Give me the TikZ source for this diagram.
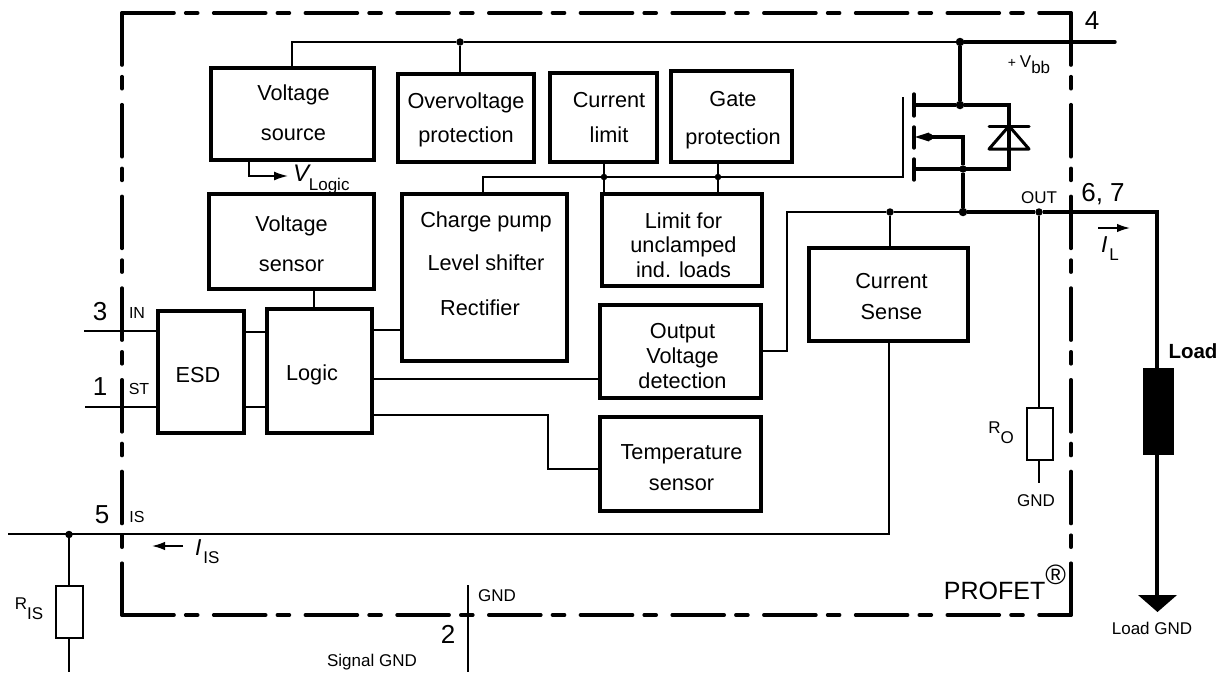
\documentclass[tikz,border=0pt]{standalone}
\usepackage{fontspec}
\setmainfont{Liberation Sans}
\usetikzlibrary{arrows.meta,calc}
\newcommand{\fsz}[1]{\fontsize{#1}{#1}\selectfont}
\newcommand{\blk}[9]{%
 \node[blockbox,font=\fontsize{21.7}{#6}\selectfont,minimum width={#4-#2-2.5},minimum height={#5-#3-2.5}] (#1) at ({(#2+#4)/2},{(#3+#5)/2})
 {\makebox[0pt]{\hspace*{#7pt}\smash{\raisebox{#8pt}[0pt][0pt]{\begin{tabular}{@{}c@{}}#9\end{tabular}}}}};}
\tikzset{
 x=1pt,y=-1pt,
 thinw/.style={line width=1.6pt},
 thickw/.style={line width=3.4pt},
 frameline/.style={line width=3.6pt,line cap=round,dash pattern=on 52pt off 11.7pt on 12pt off 16pt},
 blockbox/.style={draw,line width=4pt,outer sep=0pt,inner sep=0pt},
 junction/.style={circle,fill=black,inner sep=0pt,minimum size=7.5pt,outer sep=0pt},
 bigjunction/.style={circle,fill=black,inner sep=0pt,minimum size=8.5pt,outer sep=0pt},
 res/.style={draw,line width=1.7pt,outer sep=0pt,inner sep=0pt,minimum width=26.5pt,minimum height=52.5pt},
 txt/.style={inner sep=0pt,outer sep=0pt,align=center},
 small/.style={txt,font=\fsz{17}},
 pinlab/.style={txt,font=\fsz{16}},
 num/.style={txt,font=\fsz{26}},
 arrowline/.style={line width=1.6pt,-{Latex[length=13pt,width=8.5pt]}},
}
\begin{document}
\begin{tikzpicture}
\useasboundingbox (0,0) rectangle (1226,672);
% frame
\coordinate (tr) at (1071,13); \coordinate (tl) at (122,13);
\coordinate (bl) at (122,615); \coordinate (br) at (1071,615);
\draw[frameline] (tl) -- (tr);
\draw[frameline] (tl) -- (bl);
\draw[frameline] (bl) -- (br);
\draw[frameline] (tr) -- (br);
% blocks: name, x1,y1,x2,y2, line spacing, twice the x offset, raise, text
\blk{vsrc}{210}{67}{375}{161}{40}{2}{-3.5}{Voltage\\source}
\blk{ovp}{397}{73}{535}{163}{34}{0}{-5.5}{Overvoltage\\protection}
\blk{clim}{549}{72}{658}{163}{35}{11}{-5.5}{Current\\limit}
\blk{gate}{670}{70}{793}{163}{38}{3}{-7}{Gate\\protection}
\blk{vsens}{208}{193}{375}{290}{40}{0}{-7.5}{Voltage\\sensor}
\blk{cp}{401}{193}{568}{362}{10}{0}{0}{}
\node[txt,font=\fsz{21.7}] (cp1) at (486,222) {Charge pump};
\node[txt,font=\fsz{21.7}] (cp2) at (486,263) {Level shifter};
\node[txt,font=\fsz{21.7}] (cp3) at (480,308) {Rectifier};
\blk{lim}{601}{193}{763}{287}{24.5}{3}{-13}{Limit for\\unclamped\\ind. loads}
\blk{csense}{808}{247}{969}{342}{31}{6}{-8.5}{Current\\Sense}
\blk{ovd}{599}{304}{762}{399}{25}{4}{-12.5}{Output\\Voltage\\detection}
\blk{temp}{599}{416}{762}{512}{31.5}{2}{-10}{Temperature\\sensor}
\blk{esd}{157}{310}{245}{434}{24}{-6}{-11}{ESD}
\blk{logic}{266}{308}{373}{434}{24}{-15}{-10}{Logic}
% supply
\node[bigjunction] (jtop) at (960,42) {};
\node[bigjunction] (jd) at (960,105) {};
\node[junction] (jov) at (460,42) {};
\coordinate (pin4) at (1115,42);
\coordinate (vsl) at (292,42);
\draw[thinw] (vsrc.north -| vsl) -- (vsl) -- (jov) -- (jtop);
\draw[thinw] (jov) -- (jov |- ovp.north);
\draw[thickw,line cap=round] (jtop) -- (pin4);
\draw[thickw] (jtop) -- (jd);
% vlogic
\coordinate (vl1) at (249,161); \coordinate (vl2) at (249,176); \coordinate (vl3) at (288,176);
\draw[thinw,-{Latex[length=14pt,width=9pt]}] (vl1) -- (vl2) -- (vl3);
\node[txt,anchor=west] (vlt) at (293,180) {\fsz{24}\textit{V}\kern-2pt\raisebox{-9pt}{\fsz{17}Logic}};
% MOSFET
\coordinate (d1) at (915,105); \coordinate (d2) at (1009,105);
\coordinate (s1) at (915,169); \coordinate (s2) at (1009,169);
\node[junction] (js) at (963,169) {};
\node[bigjunction] (jout) at (963,212) {};
\draw[thickw] (d1) -- (jd) -- (d2) -- (s2) -- (s1);
\draw[thickw,line cap=round] (914,94) -- (914,116);
\draw[thickw,line cap=round] (914,127) -- (914,148);
\draw[thickw,line cap=round] (914,159) -- (914,180);
\coordinate (b1) at (930,137); \coordinate (b2) at (963,137);
\draw[thickw] (b1) -- (b2) -- (js) -- (jout);
\node[junction] (bd) at (929,137) {};
\fill (915,137) -- (929,132.5) -- (929,141.5) -- cycle;
% diode
\draw[line width=3pt,line cap=round] (989,126) -- (1029,126);
\draw[line width=3pt,line cap=round,line join=round] (989,149) -- (1009,126) -- (1029,149) -- cycle;
% gate drive
\coordinate (g0) at (903,97); \coordinate (g1) at (903,177); \coordinate (g2) at (483,177);
\node[junction,minimum size=6.5pt] (jc) at (604,177) {};
\node[junction,minimum size=6.5pt] (jg) at (718,177) {};
\draw[thinw] (g0) -- (g1) -- (jg) -- (jc) -- (g2) -- (g2 |- cp.north);
\draw[thinw] (jc) -- (jc |- clim.south);
\draw[thinw] (jg) -- (jg |- gate.south);
\draw[thinw] (jc) -- (jc |- lim.north);
\draw[thinw] (jg) -- (jg |- lim.north);
% output
\node[junction] (jcs) at (890,212) {};
\node[junction] (joo) at (1039,212) {};
\coordinate (oc) at (1157,212); \coordinate (ogd) at (1157,600);
\coordinate (o1) at (787,212); \coordinate (o2) at (787,351);
\draw[thinw] (ovd.east |- o2) -- (o2) -- (o1) -- (jcs) -- (jout);
\draw[thinw] (jcs) -- (jcs |- csense.north);
\draw[thickw] (jout) -- (joo) -- (oc) -- (ogd);
\node[fill=black,outer sep=0pt,inner sep=0pt,minimum width=31pt,minimum height=87pt] (load) at (1158.5,411.5) {};
\fill (1138,595) -- (1177,595) -- (1157.5,612) -- cycle;
% RO
\node[res] (ro) at (1040,434) {};
\coordinate (rog) at (1039,483);
\draw[thinw] (joo) -- (joo |- ro.north);
\draw[thinw] (joo |- ro.south) -- (rog);
% IL
\coordinate (il1) at (1098,228); \coordinate (il2) at (1130,228);
\draw[arrowline] (il1) -- (il2);
% inputs
\coordinate (in) at (84,331); \coordinate (st) at (85,407);
\draw[thinw] (in) -- (esd.west |- in);
\draw[thinw] (st) -- (esd.west |- st);
\coordinate (e1) at (250,332); \coordinate (e2) at (250,407);
\draw[thinw] (esd.east |- e1) -- (logic.west |- e1);
\draw[thinw] (esd.east |- e2) -- (logic.west |- e2);
\coordinate (e3) at (314,300);
\draw[thinw] (vsens.south -| e3) -- (logic.north -| e3);
\coordinate (e4) at (380,330); \coordinate (e5) at (380,379);
\draw[thinw] (logic.east |- e4) -- (cp.west |- e4);
\draw[thinw] (logic.east |- e5) -- (ovd.west |- e5);
\coordinate (t1) at (548,415); \coordinate (t2) at (548,469);
\draw[thinw] (logic.east |- t1) -- (t1) -- (t2) -- (temp.west |- t2);
% IS
\coordinate (is1) at (889,534); \coordinate (is0) at (8,534);
\node[junction] (jis) at (69,534.5) {};
\draw[thinw] (csense.south -| is1) -- (is1) -- (jis |- is1) -- (is0);
\node[res] (ris) at (69.5,612) {};
\coordinate (risb) at (69,672);
\draw[thinw] (jis) -- (ris.north -| jis);
\draw[thinw] (ris.south -| jis) -- (risb);
\coordinate (ia1) at (183,546); \coordinate (ia2) at (152,546);
\draw[arrowline] (ia1) -- (ia2);
% GND
\coordinate (g3) at (468,585); \coordinate (g4) at (468,672);
\draw[thinw] (g3) -- (g4);
% labels
\node[num] (n4) at (1092,21) {4};
\node[num] (n67) at (1103,194) {6, 7};
\node[num] (n3) at (100,312) {3};
\node[num] (n1) at (100,387) {1};
\node[num] (n5) at (102,515) {5};
\node[num] (n2) at (448,634) {2};
\node[pinlab] (lin) at (137,313) {IN};
\node[pinlab] (lst) at (139,389) {ST};
\node[pinlab] (lis) at (137,517) {IS};
\node[small] (lout) at (1039,198) {OUT};
\node[small] (lgnd) at (1036,501) {GND};
\node[small] (lgnd2) at (497,596) {GND};
\node[small] (lsg) at (372,662) {Signal GND};
\node[small] (llg) at (1152,628) {Load GND};
\node[txt,font=\fsz{17}] (lbb) at (1029,65) {\fsz{14}+ \fsz{17}V\raisebox{-6pt}{bb}};
\node[txt,font=\fsz{17}] (lro) at (1001,433) {R\raisebox{-10pt}{O}};
\node[txt,font=\fsz{17}] (lris) at (29,609) {R\raisebox{-10pt}{IS}};
\node[txt,font=\bfseries\fsz{20.5}] (lload) at (1193,351) {Load};
\node[txt,anchor=west] (lil) at (1101,249) {\fsz{23}\textit{I}\kern2pt\raisebox{-8pt}{\fsz{17}L}};
\node[txt,anchor=west] (liis) at (195,552) {\fsz{23}\textit{I}\kern2pt\raisebox{-8pt}{\fsz{17}IS}};
\node[txt,anchor=base east] (lprof) at (1066,599) {\fsz{25}PROFET\raisebox{15pt}{\fsz{28}\textregistered}};
\end{tikzpicture}
\end{document}
